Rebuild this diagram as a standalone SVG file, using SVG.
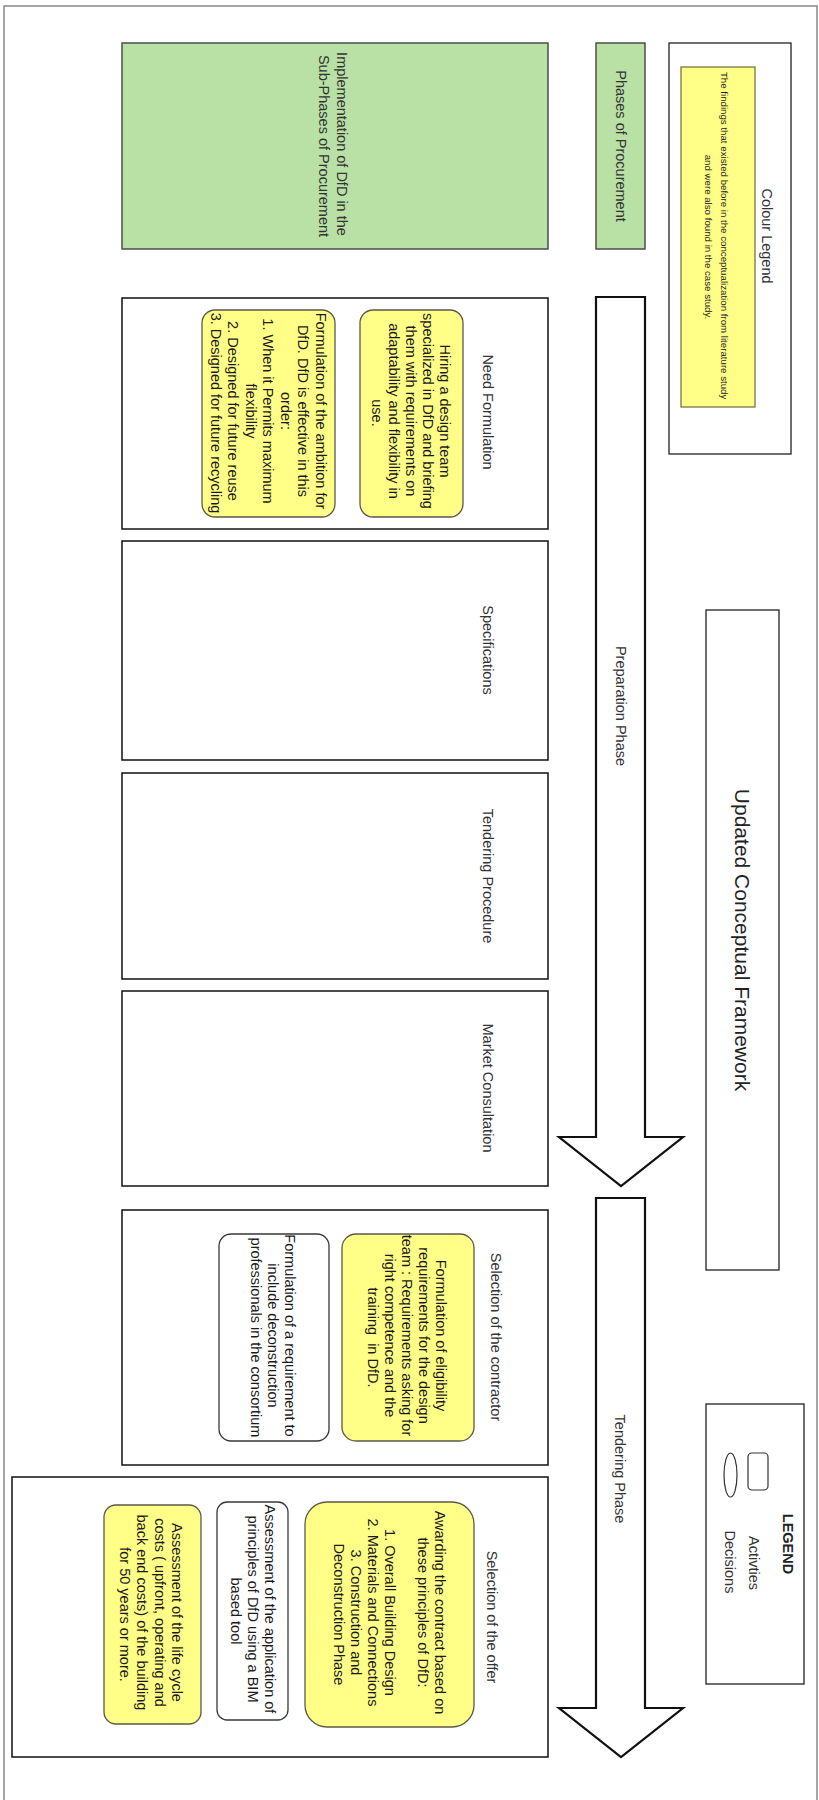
<svg xmlns="http://www.w3.org/2000/svg" width="819" height="1800" viewBox="0 0 819 1800">
  <style>
    text { font-family: "Liberation Sans", Arial, sans-serif; fill: #222; }
    .lbl { font-size: 14.5px; fill: #333; }
    .act { font-size: 14.5px; fill: #1a1a1a; }
    .phase { fill: #fff; stroke: #111; stroke-width: 1.5; }
    .green { fill: #b9e0a5; stroke: #4d4d4d; stroke-width: 1.5; }
    .yellow { fill: #ffff88; stroke: #5a5a4a; stroke-width: 1.3; }
    .white { fill: #fff; stroke: #36393d; stroke-width: 1.3; }
    .frame { fill: #fff; stroke: #222; stroke-width: 1.3; }
    .bigarrow { fill: #fff; stroke: #111; stroke-width: 2.2; stroke-linejoin: miter; }
  </style>

  <!-- page border -->
  <rect x="4" y="6" width="813" height="1810" fill="#fff" stroke="#888" stroke-width="1.5"/>

  <!-- colour legend -->
  <g id="colour-legend">
    <rect class="frame" x="669" y="43" width="122" height="411"/>
    <rect x="681" y="67" width="74" height="340" fill="#ffff88" stroke="#6b6b3a" stroke-width="1.2"/>
    <text class="lbl" transform="translate(767,236) rotate(90)" text-anchor="middle" dominant-baseline="central">Colour Legend</text>
    <text transform="translate(717,237) rotate(90)" text-anchor="middle" dominant-baseline="central" font-size="9.7" fill="#4a4a3a">
      <tspan x="0" y="-8">The findings that existed before in the conceptualization from literature study</tspan>
      <tspan x="0" y="8">and were also found in the case study.</tspan>
    </text>
  </g>

  <!-- column headers -->
  <g id="phases-header">
    <rect class="green" x="596" y="43" width="49" height="206"/>
    <text class="lbl" font-size="15" transform="translate(621,146) rotate(90)" text-anchor="middle" dominant-baseline="central">Phases of Procurement</text>
  </g>
  <g id="subphases-header">
    <rect class="green" x="122" y="43" width="426" height="206"/>
    <text class="lbl" font-size="14.8" transform="translate(333,146) rotate(90)" text-anchor="middle" dominant-baseline="central">
      <tspan x="0" y="-9">Implementation of DfD in the</tspan>
      <tspan x="0" y="9">Sub-Phases of Procurement</tspan>
    </text>
  </g>

  <!-- title -->
  <g id="title">
    <rect class="frame" x="706" y="610" width="73" height="660"/>
    <text transform="translate(742,940) rotate(90)" text-anchor="middle" dominant-baseline="central" font-size="21" fill="#333">Updated Conceptual Framework</text>
  </g>

  <!-- legend of shapes -->
  <g id="shape-legend">
    <rect class="frame" x="706" y="1404" width="98" height="280"/>
    <rect x="748" y="1453" width="20" height="37" rx="4" fill="#fff" stroke="#333" stroke-width="1.2"/>
    <ellipse cx="730.5" cy="1475" rx="6.5" ry="22" fill="#fff" stroke="#333" stroke-width="1.2"/>
    <text transform="translate(788,1544) rotate(90)" text-anchor="middle" dominant-baseline="central" font-size="14.5" font-weight="bold" fill="#222">LEGEND</text>
    <text class="lbl" transform="translate(754,1563) rotate(90)" text-anchor="middle" dominant-baseline="central">Activties</text>
    <text class="lbl" transform="translate(730,1562) rotate(90)" text-anchor="middle" dominant-baseline="central">Decisions</text>
  </g>

  <!-- phase arrows -->
  <g id="connectors">
    <polygon id="preparation-arrow" class="bigarrow" points="596,297 645,297 645,1137 683,1137 621,1186 559,1137 596,1137"/>
    <polygon id="tendering-arrow" class="bigarrow" points="596,1198 645,1198 645,1708 683,1708 621,1757 559,1708 596,1708"/>
  </g>
  <text class="lbl" transform="translate(621,706) rotate(90)" text-anchor="middle" dominant-baseline="central">Preparation Phase</text>
  <text class="lbl" transform="translate(620,1469) rotate(90)" text-anchor="middle" dominant-baseline="central">Tendering Phase</text>

  <!-- preparation sub-phases -->
  <g id="need-formulation">
    <rect class="phase" x="122" y="298" width="426" height="231"/>
    <text class="lbl" transform="translate(488,412) rotate(90)" text-anchor="middle" dominant-baseline="central">Need Formulation</text>
  </g>
  <g id="hiring-design-team">
    <rect class="yellow" x="360" y="310" width="103" height="207" rx="13"/>
    <text class="act" transform="translate(411,413) rotate(90)" text-anchor="middle" dominant-baseline="central">
      <tspan x="0" y="-33.6">Hiring a design team</tspan>
      <tspan x="0" y="-16.8">specialized in DfD and briefing</tspan>
      <tspan x="0" y="0">them with requirements on</tspan>
      <tspan x="0" y="16.8">adaptability and flexibility in</tspan>
      <tspan x="0" y="33.6">use.</tspan>
    </text>
  </g>
  <g id="ambition-formulation">
    <rect class="yellow" x="202" y="310" width="133" height="207" rx="13"/>
    <text class="act" transform="translate(268,413) rotate(90)" text-anchor="middle" dominant-baseline="central">
      <tspan x="0" y="-52.5">Formulation of the ambition for</tspan>
      <tspan x="0" y="-35">DfD. DfD is effective in this</tspan>
      <tspan x="0" y="-17.5">order:</tspan>
      <tspan x="0" y="0">1.  When it Permits maximum</tspan>
      <tspan x="0" y="17.5">flexibility</tspan>
      <tspan x="0" y="35">2. Designed for future reuse</tspan>
      <tspan x="0" y="52.5">3. Designed for future recycling</tspan>
    </text>
  </g>
  <g id="specifications">
    <rect class="phase" x="122" y="541" width="426" height="219"/>
    <text class="lbl" transform="translate(488,650) rotate(90)" text-anchor="middle" dominant-baseline="central">Specifications</text>
  </g>
  <g id="tendering-procedure">
    <rect class="phase" x="122" y="773" width="426" height="206"/>
    <text class="lbl" transform="translate(488,876) rotate(90)" text-anchor="middle" dominant-baseline="central">Tendering Procedure</text>
  </g>
  <g id="market-consultation">
    <rect class="phase" x="122" y="991" width="426" height="195"/>
    <text class="lbl" transform="translate(488,1088) rotate(90)" text-anchor="middle" dominant-baseline="central">Market Consultation</text>
  </g>

  <!-- tendering sub-phases -->
  <g id="contractor-selection">
    <rect class="phase" x="122" y="1210" width="426" height="255"/>
    <text class="lbl" transform="translate(496,1337) rotate(90)" text-anchor="middle" dominant-baseline="central">Selection of the contractor</text>
  </g>
  <g id="eligibility-requirements">
    <rect class="yellow" x="342" y="1234" width="132" height="207" rx="14"/>
    <text class="act" transform="translate(407,1337.5) rotate(90)" text-anchor="middle" dominant-baseline="central">
      <tspan x="0" y="-33.6">Formulation of eligibility</tspan>
      <tspan x="0" y="-16.8">requirements for the design</tspan>
      <tspan x="0" y="0">team : Requirements asking for</tspan>
      <tspan x="0" y="16.8">right competence and the</tspan>
      <tspan x="0" y="33.6">training&#160; in DfD.</tspan>
    </text>
  </g>
  <g id="deconstruction-requirement">
    <rect class="white" x="219" y="1234" width="110" height="207" rx="12"/>
    <text class="act" transform="translate(273,1337.5) rotate(90)" text-anchor="middle" dominant-baseline="central">
      <tspan x="0" y="-16.8">Formulation of a requirement to</tspan>
      <tspan x="0" y="0">include deconstruction</tspan>
      <tspan x="0" y="16.8">professionals in the consortium</tspan>
    </text>
  </g>
  <g id="offer-selection">
    <rect class="phase" x="12" y="1477" width="536" height="280"/>
    <text class="lbl" transform="translate(492,1617) rotate(90)" text-anchor="middle" dominant-baseline="central">Selection of the offer</text>
  </g>
  <g id="contract-award">
    <rect class="yellow" x="305" y="1502" width="169" height="225" rx="22"/>
    <text class="act" transform="translate(389.5,1614.5) rotate(90)" text-anchor="middle" dominant-baseline="central">
      <tspan x="0" y="-50.4">Awarding the contract based on</tspan>
      <tspan x="0" y="-33.6">these principles of DfD:</tspan>
      <tspan x="0" y="0">1. Overall Building Design</tspan>
      <tspan x="0" y="16.8">2. Materials and Connections</tspan>
      <tspan x="0" y="33.6">3. Construction and</tspan>
      <tspan x="0" y="50.4">Deconstruction Phase</tspan>
    </text>
  </g>
  <g id="bim-assessment">
    <rect class="white" x="217" y="1502" width="71" height="218" rx="10"/>
    <text class="act" transform="translate(253,1611) rotate(90)" text-anchor="middle" dominant-baseline="central">
      <tspan x="0" y="-16.8">Assessment of the application of</tspan>
      <tspan x="0" y="0">principles of DfD using a BIM</tspan>
      <tspan x="0" y="16.8">based tool</tspan>
    </text>
  </g>
  <g id="life-cycle-costs">
    <rect class="yellow" x="104" y="1505" width="97" height="219" rx="12"/>
    <text class="act" transform="translate(151,1614.5) rotate(90)" text-anchor="middle" dominant-baseline="central">
      <tspan x="0" y="-26">Assessment of the life cycle</tspan>
      <tspan x="0" y="-8.7">costs ( upfront, operating and</tspan>
      <tspan x="0" y="8.7">back end costs) of the building</tspan>
      <tspan x="0" y="26">for 50 years or more.</tspan>
    </text>
  </g>
</svg>
